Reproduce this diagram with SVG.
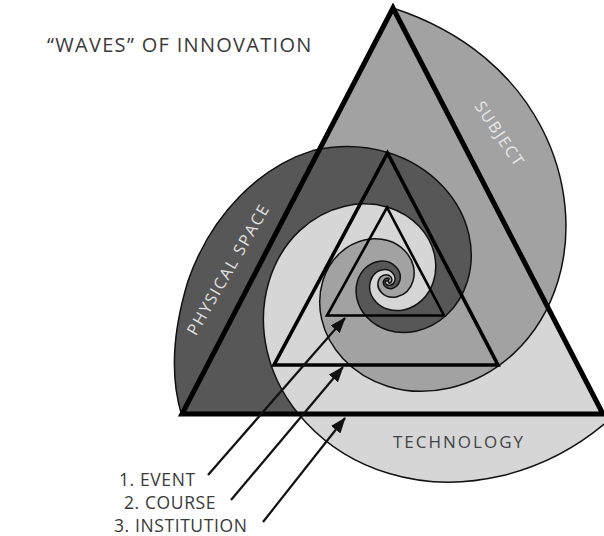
<svg xmlns="http://www.w3.org/2000/svg" width="604" height="536" viewBox="0 0 604 536">
<style>
.arm{fill:none;stroke:#111;stroke-width:1.5;stroke-linejoin:round}
.tri{fill:none;stroke:#000}
.conn{stroke:#111;stroke-width:2.2;fill:none}
.t{font-family:"Open Sans","Noto Sans","DejaVu Sans",sans-serif}
.dark-t{fill:#3a3a3a}
.lbl{font-size:17.5px;letter-spacing:0.6px}
</style>
<defs>
<marker id="ah" viewBox="0 0 16 12" refX="15" refY="6" markerWidth="16" markerHeight="12" markerUnits="userSpaceOnUse" orient="auto">
<path d="M0,0 L16,6 L0,12 Z" fill="#111"/>
</marker>
<clipPath id="rightOfEdge">
<polygon points="371.8,-32.6 624,454.6 800,454.6 800,-32.6"/>
</clipPath>
<path id="armS" d="M392.8,8 C540.9,56 586.3,188.3 558,281 C539.5,341.7 494.7,377.6 449.8,388 C404.8,398.4 366,383.2 343.1,358.7 C320.2,334.2 315.7,304.3 322.8,281 C329.9,257.7 347.1,244 364.3,240 C381.5,236 396.4,241.8 405.2,251.2 C414,260.6 415.7,272.1 413,281 C410.3,289.9 403.7,295.2 397.1,296.7 C390.5,298.3 384.8,296 381.4,292.4 C378,288.8 377.4,284.4 378.4,281 C379.4,277.6 382,275.5 384.5,275 C387.1,274.4 389.2,275.2 390.5,276.6 C391.8,278 392.1,279.7 391.7,281 C391.3,282.3 390.3,283.1 389.3,283.3 L388,281"/>
<path id="armP" d="M181.5,414.5 C167.2,367.1 176.3,319.5 188,281 C212,212 262,166 312.7,150.6 C367.5,137.9 414.8,156.4 442.7,186.3 C470.6,216.1 476.1,252.6 467.5,281 C458.8,309.4 437.9,326.1 416.9,331 C395.9,335.9 377.7,328.8 367,317.3 C356.3,305.9 354.2,291.9 357.5,281 C360.8,270.1 368.9,263.7 376.9,261.8 C385,259.9 391.9,262.7 396,267.1 C400.2,271.5 401,276.8 399.7,281 C398.4,285.2 395.3,287.6 392.2,288.4 C389.2,289.1 386.5,288 384.9,286.3 C383.3,284.7 383,282.6 383.5,281 C384,279.4 385.2,278.5 386.4,278.2 C387.6,277.9 388.6,278.3 389.2,278.9 L388,281"/>
<path id="armT" d="M610.6,418.7 C576.7,448.6 538.5,467.3 500.6,476.1 C418.7,495.1 347.9,467.4 306.2,422.7 C264.4,378.1 256.1,323.5 269.1,281 C282,238.5 313.3,213.4 344.8,206.2 C376.2,198.9 403.4,209.5 419.4,226.6 C435.4,243.8 438.6,264.7 433.6,281 C428.7,297.3 416.6,306.9 404.6,309.7 C392.5,312.5 382.1,308.4 376,301.9 C369.8,295.3 368.6,287.3 370.5,281 C372.4,274.7 377,271.1 381.6,270 C386.3,268.9 390.3,270.5 392.6,273 C395,275.5 395.4,278.6 394.7,281 C394,283.4 392.2,284.8 390.4,285.2 C388.7,285.6 387.1,285 386.2,284.1 C385.3,283.1 385.1,281.9 385.4,281 L388,281"/>
</defs>
<rect width="604" height="536" fill="#fff"/>
<g id="regions">
<path id="region-subject" fill="#a2a2a2" d="M392.8,8 C540.9,56 586.3,188.3 558,281 C539.5,341.7 494.7,377.6 449.8,388 C404.8,398.4 366,383.2 343.1,358.7 C320.2,334.2 315.7,304.3 322.8,281 C329.9,257.7 347.1,244 364.3,240 C381.5,236 396.4,241.8 405.2,251.2 C414,260.6 415.7,272.1 413,281 C410.3,289.9 403.7,295.2 397.1,296.7 C390.5,298.3 384.8,296 381.4,292.4 C378,288.8 377.4,284.4 378.4,281 C379.4,277.6 382,275.5 384.5,275 C387.1,274.4 389.2,275.2 390.5,276.6 C391.8,278 392.1,279.7 391.7,281 C391.3,282.3 390.3,283.1 389.3,283.3 L388,281 L389.2,278.9 C388.6,278.3 387.6,277.9 386.4,278.2 C385.2,278.5 384,279.4 383.5,281 C383,282.6 383.3,284.7 384.9,286.3 C386.5,288 389.2,289.1 392.2,288.4 C395.3,287.6 398.4,285.2 399.7,281 C401,276.8 400.2,271.5 396,267.1 C391.9,262.7 385,259.9 376.9,261.8 C368.9,263.7 360.8,270.1 357.5,281 C354.2,291.9 356.3,305.9 367,317.3 C377.7,328.8 395.9,335.9 416.9,331 C437.9,326.1 458.8,309.4 467.5,281 C476.1,252.6 470.6,216.1 442.7,186.3 C414.8,156.4 367.5,137.9 312.7,150.6 C262,166 212,212 188,281 C176.3,319.5 167.2,367.1 181.5,414.5 Z"/>
<path id="region-physical" fill="#575757" d="M181.5,414.5 C167.2,367.1 176.3,319.5 188,281 C212,212 262,166 312.7,150.6 C367.5,137.9 414.8,156.4 442.7,186.3 C470.6,216.1 476.1,252.6 467.5,281 C458.8,309.4 437.9,326.1 416.9,331 C395.9,335.9 377.7,328.8 367,317.3 C356.3,305.9 354.2,291.9 357.5,281 C360.8,270.1 368.9,263.7 376.9,261.8 C385,259.9 391.9,262.7 396,267.1 C400.2,271.5 401,276.8 399.7,281 C398.4,285.2 395.3,287.6 392.2,288.4 C389.2,289.1 386.5,288 384.9,286.3 C383.3,284.7 383,282.6 383.5,281 C384,279.4 385.2,278.5 386.4,278.2 C387.6,277.9 388.6,278.3 389.2,278.9 L388,281 L385.4,281 C385.1,281.9 385.3,283.1 386.2,284.1 C387.1,285 388.7,285.6 390.4,285.2 C392.2,284.8 394,283.4 394.7,281 C395.4,278.6 395,275.5 392.6,273 C390.3,270.5 386.3,268.9 381.6,270 C377,271.1 372.4,274.7 370.5,281 C368.6,287.3 369.8,295.3 376,301.9 C382.1,308.4 392.5,312.5 404.6,309.7 C416.6,306.9 428.7,297.3 433.6,281 C438.6,264.7 435.4,243.8 419.4,226.6 C403.4,209.5 376.2,198.9 344.8,206.2 C313.3,213.4 282,238.5 269.1,281 C256.1,323.5 264.4,378.1 306.2,422.7 C347.9,467.4 418.7,495.1 500.6,476.1 C538.5,467.3 576.7,448.6 610.6,418.7 Z"/>
<path id="region-technology" fill="#d6d6d6" d="M610.6,418.7 C576.7,448.6 538.5,467.3 500.6,476.1 C418.7,495.1 347.9,467.4 306.2,422.7 C264.4,378.1 256.1,323.5 269.1,281 C282,238.5 313.3,213.4 344.8,206.2 C376.2,198.9 403.4,209.5 419.4,226.6 C435.4,243.8 438.6,264.7 433.6,281 C428.7,297.3 416.6,306.9 404.6,309.7 C392.5,312.5 382.1,308.4 376,301.9 C369.8,295.3 368.6,287.3 370.5,281 C372.4,274.7 377,271.1 381.6,270 C386.3,268.9 390.3,270.5 392.6,273 C395,275.5 395.4,278.6 394.7,281 C394,283.4 392.2,284.8 390.4,285.2 C388.7,285.6 387.1,285 386.2,284.1 C385.3,283.1 385.1,281.9 385.4,281 L388,281 L389.3,283.3 C390.3,283.1 391.3,282.3 391.7,281 C392.1,279.7 391.8,278 390.5,276.6 C389.2,275.2 387.1,274.4 384.5,275 C382,275.5 379.4,277.6 378.4,281 C377.4,284.4 378,288.8 381.4,292.4 C384.8,296 390.5,298.3 397.1,296.7 C403.7,295.2 410.3,289.9 413,281 C415.7,272.1 414,260.6 405.2,251.2 C396.4,241.8 381.5,236 364.3,240 C347.1,244 329.9,257.7 322.8,281 C315.7,304.3 320.2,334.2 343.1,358.7 C366,383.2 404.8,398.4 449.8,388 C494.7,377.6 539.5,341.7 558,281 C586.3,188.3 540.9,56 392.8,8 L603,414 Z"/>
<path id="region-subject-outer" fill="#a2a2a2" clip-path="url(#rightOfEdge)" d="M392.8,8 C540.9,56 586.3,188.3 558,281 C539.5,341.7 494.7,377.6 449.8,388 Z"/>
</g>
<g id="spiral-lines">
<use href="#armS" class="arm"/>
<use href="#armP" class="arm"/>
<use href="#armT" class="arm"/>
</g>
<g id="triangle-large"><polygon class="tri" stroke-width="5" points="393,8 182,414 603,414"/></g>
<g id="triangle-middle"><polygon class="tri" stroke-width="3.6" points="387.5,153 274,365 498,365"/></g>
<g id="triangle-small"><polygon class="tri" stroke-width="2.6" points="387,207.5 327,315.5 444,315.5"/></g>
<g id="connectors">
<line class="conn" x1="208" y1="475" x2="345" y2="318" marker-end="url(#ah)"/>
<line class="conn" x1="231" y1="500" x2="343" y2="367" marker-end="url(#ah)"/>
<line class="conn" x1="263" y1="522" x2="345" y2="418" marker-end="url(#ah)"/>
</g>
<g id="title"><text class="t dark-t" x="47" y="52" font-size="20" letter-spacing="1.3">“WAVES” OF INNOVATION</text></g>
<g id="label-event"><text class="t dark-t lbl" x="119" y="486">1. EVENT</text></g>
<g id="label-course"><text class="t dark-t lbl" x="124" y="509">2. COURSE</text></g>
<g id="label-institution"><text class="t dark-t lbl" x="114" y="532">3. INSTITUTION</text></g>
<g id="label-technology"><text class="t" fill="#444" x="459" y="448" font-size="17" letter-spacing="2" text-anchor="middle">TECHNOLOGY</text></g>
<g id="label-subject"><text class="t" fill="#e8e8e8" font-size="16" letter-spacing="1.8" text-anchor="middle" transform="translate(500,134) rotate(56)" x="0" y="6">SUBJECT</text></g>
<g id="label-physical"><text class="t" fill="#e2e2e2" font-size="16" letter-spacing="1.8" text-anchor="middle" transform="translate(228,269) rotate(-60)" x="0" y="6">PHYSICAL SPACE</text></g>
</svg>
